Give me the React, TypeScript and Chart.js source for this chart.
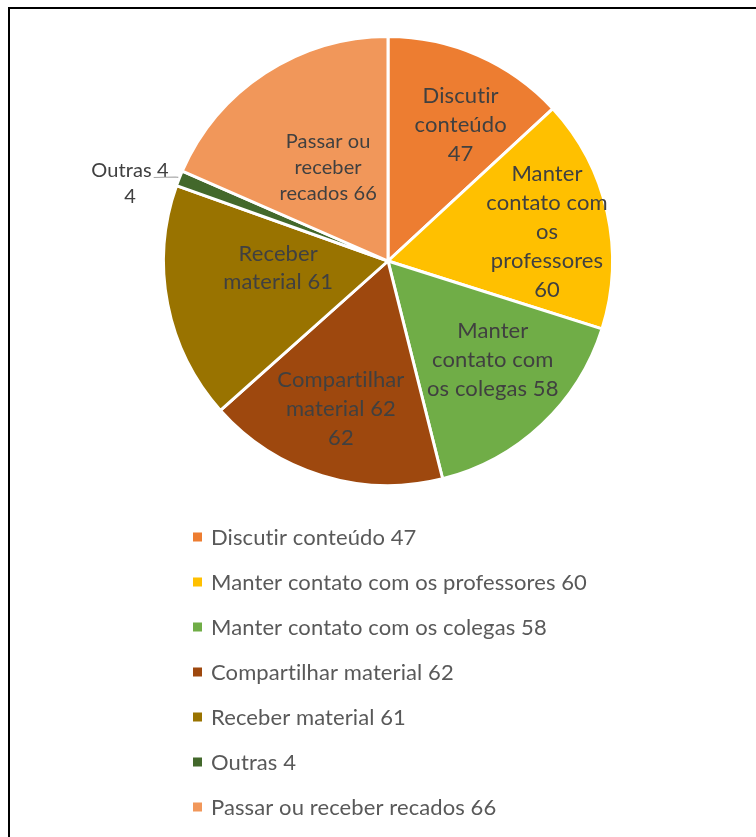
import React, { useEffect, useRef } from "react";
import { Chart, registerables } from "chart.js";

Chart.register(...registerables);

const categories = [
  "Discutir conteúdo 47",
  "Manter contato com os professores 60",
  "Manter contato com os colegas 58",
  "Compartilhar material 62",
  "Receber material 61",
  "Outras 4",
  "Passar ou receber recados 66",
];
const values = [47, 60, 58, 62, 61, 4, 66];
const colors = ["#ED7D31", "#FFC000", "#70AD47", "#9E480E", "#997300", "#43682B", "#F1975A"];
const sliceLabels = [
  ["Discutir", "conteúdo", "47"],
  ["Manter", "contato com", "os", "professores", "60"],
  ["Manter", "contato com", "os colegas 58"],
  ["Compartilhar", "material 62", "62"],
  ["Receber", "material 61"],
  ["Outras 4", "4"],
  ["Passar ou", "receber", "recados 66"],
];

const FONT = "Lato, 'Open Sans', sans-serif";

// label placement (radius fraction, angle offset in degrees, font size, line height)
const PLACE = [
  { r: 0.686, da: 4.5, fs: 22, lh: 29 },
  { r: 0.72, da: 2.2, fs: 22, lh: 29 },
  { r: 0.642, da: -3.4, fs: 22, lh: 29 },
  { r: 0.69, da: 0.6, fs: 22, lh: 29 },
  { r: 0.49, da: 7.4, fs: 22, lh: 28 },
  { r: 1.2, da: -4.9, fs: 20, lh: 26, outside: true },
  { r: 0.495, da: 0.6, fs: 20, lh: 26 },
];

const labelPlugin = {
  id: "sliceLabels",
  afterDatasetsDraw(chart: any) {
    const ctx = chart.ctx;
    const meta = chart.getDatasetMeta(0);
    ctx.save();
    ctx.textAlign = "center";
    ctx.textBaseline = "middle";
    try { (ctx as any).letterSpacing = "0.1px"; } catch (e) {}
    meta.data.forEach((arc: any, i: number) => {
      const p: any = PLACE[i];
      const { x, y, startAngle, endAngle, outerRadius } = arc.getProps(
        ["x", "y", "startAngle", "endAngle", "outerRadius"],
        true
      );
      const midRaw = (startAngle + endAngle) / 2;
      const mid = midRaw + (p.da * Math.PI) / 180;
      const cx = x + Math.cos(mid) * outerRadius * p.r;
      const cy = y + Math.sin(mid) * outerRadius * p.r;
      const lines = sliceLabels[i];
      ctx.font = `${p.fs}px ${FONT}`;
      const top = cy - ((lines.length - 1) * p.lh) / 2;
      ctx.fillStyle = "#404040";
      lines.forEach((ln: string, k: number) => ctx.fillText(ln, cx, top + k * p.lh));
      if (p.outside) {
        const ex = x + Math.cos(midRaw) * outerRadius;
        const ey = y + Math.sin(midRaw) * outerRadius;
        const w0 = ctx.measureText(lines[0]).width;
        const ly = top + 7;
        ctx.strokeStyle = "#A6A6A6";
        ctx.lineWidth = 1.2;
        ctx.beginPath();
        ctx.moveTo(cx + w0 / 2 - 15, ly);
        ctx.lineTo(ex - 4, ly - 0.5);
        ctx.lineTo(ex - 1, ey - 1);
        ctx.stroke();
      }
    });
    ctx.restore();
  },
};

const legendPlugin = {
  id: "vertLegend",
  afterDraw(chart: any) {
    const ctx = chart.ctx;
    const ds = chart.data.datasets[0];
    const labels = chart.data.labels as string[];
    const y0 = chart.chartArea.bottom + 50;
    const x0 = 183;
    ctx.save();
    ctx.font = `22px ${FONT}`;
    try { (ctx as any).letterSpacing = "0.1px"; } catch (e) {}
    ctx.textAlign = "left";
    ctx.textBaseline = "middle";
    labels.forEach((lb, i) => {
      const yy = y0 + i * 45;
      ctx.fillStyle = ds.backgroundColor[i];
      ctx.fillRect(x0, yy - 4.5, 9, 9);
      ctx.fillStyle = "#595959";
      ctx.fillText(lb, x0 + 18, yy + 1);
    });
    ctx.restore();
  },
};

export default function App() {
  const ref = useRef<HTMLCanvasElement>(null);
  useEffect(() => {
    if (!ref.current) return;
    const chart = new Chart(ref.current, {
      type: "pie",
      data: {
        labels: categories,
        datasets: [
          {
            data: values,
            backgroundColor: colors,
            borderColor: "#FFFFFF",
            borderWidth: 3,
          },
        ],
      },
      options: {
        responsive: false,
        animation: false,
        layout: { padding: { top: 26, left: 10, right: 0, bottom: 350 } },
        plugins: {
          legend: { display: false },
          tooltip: { enabled: false },
        },
      },
      plugins: [labelPlugin, legendPlugin],
    });
    return () => chart.destroy();
  }, []);
  return (
    <div
      style={{
        position: "fixed",
        left: 8,
        top: 7,
        width: 760,
        height: 840,
        borderTop: "2px solid #000",
        borderLeft: "2px solid #000",
        background: "#fff",
      }}
    >
      <canvas ref={ref} width={746} height={828} style={{ width: 746, height: 828, display: "block" }} />
    </div>
  );
}
